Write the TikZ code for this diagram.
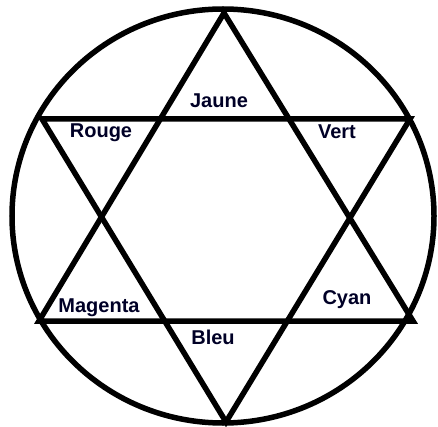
\documentclass[tikz,border=0pt]{standalone}
\usepackage{fontspec}
\setmainfont{Liberation Sans}
\tikzset{
  every picture/.style={line width=5.5pt, line join=miter},
  colour/.style={font=\bfseries\fontsize{20}{22}\selectfont, inner sep=1pt, text=black!85!blue},
}
\begin{document}
\begin{tikzpicture}[x=1pt, y=-1pt]
  \useasboundingbox (0,0) rectangle (438,427);
  % circle round the star
  \draw (223,216) ellipse [x radius=211, y radius=207];
  % upward and downward triangles
  \coordinate (top) at (224,13);
  \coordinate (bl) at (39,321);
  \coordinate (br) at (413,321);
  \coordinate (tl) at (42,119);
  \coordinate (tr) at (410,119);
  \coordinate (bot) at (226,422);
  \draw (top) -- (br) -- (bl) -- cycle;
  \draw (tl) -- (tr) -- (bot) -- cycle;
  % colour names
  \node[colour] (jaune) at (219,101) {Jaune};
  \node[colour] (rouge) at (101,133) {Rouge};
  \node[colour] (vert) at (337,132) {Vert};
  \node[colour] (magenta) at (99,308) {Magenta};
  \node[colour] (cyan) at (347,300) {Cyan};
  \node[colour] (bleu) at (213,337) {Bleu};
\end{tikzpicture}
\end{document}
